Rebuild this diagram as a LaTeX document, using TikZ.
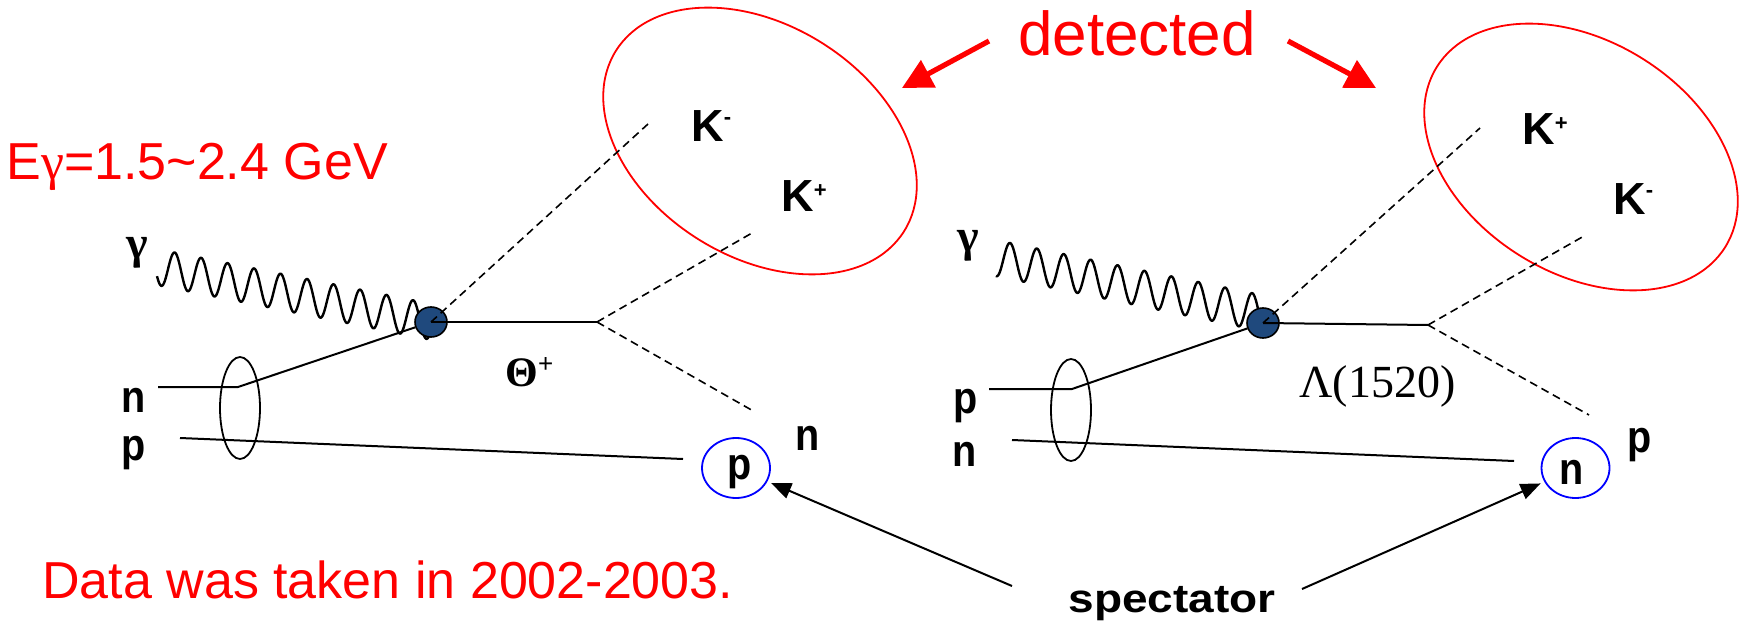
\documentclass[tikz,border=0pt]{standalone}
\usepackage{fontspec}
\setmainfont{Liberation Sans}
\newfontfamily\serif{Liberation Serif}
\usetikzlibrary{arrows.meta,shapes.geometric}
\definecolor{blobblue}{RGB}{31,73,125}
\definecolor{pred}{RGB}{255,0,0}
\definecolor{pblue}{RGB}{0,0,255}
\begin{document}
\begin{tikzpicture}[x=0.5pt,y=-0.5pt,
  fermion/.style={line width=1pt},
  meson/.style={line width=0.8pt, dash pattern=on 4pt off 2.5pt},
  photon/.style={line width=1.2pt, line join=round},
  vtx/.style={ellipse, draw=black, line width=0.8pt, fill=blobblue, minimum width=16pt, minimum height=15pt, inner sep=0pt},
  target/.style={ellipse, draw=black, line width=0.9pt, minimum width=20pt, minimum height=51pt, inner sep=0pt},
  detector/.style={ellipse, draw=pred, line width=0.9pt, minimum width=170pt, minimum height=116pt, inner sep=0pt, rotate=-32},
  spect/.style={ellipse, draw=pblue, line width=0.9pt, minimum width=34pt, minimum height=30pt, inner sep=0pt},
  lbl/.style={font=\fontsize{22.5}{27}\selectfont\bfseries, inner sep=0pt, anchor=base},
  klbl/.style={font=\fontsize{22.5}{27}\selectfont\bfseries, inner sep=0pt, anchor=base west},
  glbl/.style={font=\serif\bfseries\fontsize{23}{27}\selectfont, inner sep=0pt, anchor=base},
  redtxt/.style={text=pred, inner sep=0pt, font=\fontsize{26}{31}\selectfont},
  detarrow/.style={draw=pred, line width=2.6pt, -{Triangle[length=15pt,width=15pt]}},
  specarrow/.style={line width=1pt, -{Triangle[length=10pt,width=8pt]}, shorten >=2pt}
]
\useasboundingbox (0,0) rectangle (1748,625);

% ---------- detector ellipses ----------
\node[detector] (detL) at (760,141) {};
\node[detector] (detR) at (1581,157) {};

% ---------- red texts ----------
\node[redtxt, anchor=base] (det) at (1137,56) {\fontsize{31}{37}\selectfont detected};
\node[redtxt, anchor=base west] (egam) at (6,180) {E{\serif γ}=1.5\textasciitilde 2.4 GeV};
\node[redtxt, anchor=base west] (data) at (42,598) {Data was taken in 2002-2003.};

\coordinate (dA) at (989,41);
\coordinate (dAt) at (902,88);
\coordinate (dB) at (1288,41);
\coordinate (dBt) at (1376,88);
\draw[detarrow] (dA) -- (dAt);
\draw[detarrow] (dB) -- (dBt);

% ================= LEFT DIAGRAM =================
\draw[photon] plot[domain=157:431, samples=500, variable=\t] (\t, {270+0.2*(\t-172)-18*sin(13.585*(\t-168))});
\node[vtx] (bL) at (431,322) {};
\node[target] (ellL) at (240,408) {};
\coordinate (nL0) at (158,387);
\coordinate (nL1) at (238,387);
\coordinate (pL0) at (180,438);
\coordinate (pL1) at (683,459);
\coordinate (vL) at (597,322);
\coordinate (kmL) at (648,124);
\coordinate (kpL) at (752,233);
\coordinate (nfL) at (755,412);
\draw[fermion] (nL0) -- (nL1) -- (bL);
\draw[fermion] (pL0) -- (pL1);
\draw[fermion] (bL.center) -- (vL);
\draw[meson] (bL.center) -- (kmL);
\draw[meson] (vL) -- (kpL);
\draw[meson] (vL) -- (nfL);
\node[spect] (specL) at (736,468) {};

\node[glbl] (gL) at (137,259) {γ};
\node[lbl, xscale=0.88] (nLlab) at (134,412) {n};
\node[lbl, xscale=0.88] (pLlab) at (134,460) {p};
\node[lbl, xscale=0.88] (pLs) at (740,479) {p};
\node[lbl, xscale=0.88] (nLf) at (808,450) {n};
\node[klbl] (kmLlab) at (691,142) {K\raisebox{8.5pt}{\fontsize{11}{11}\selectfont -}};
\node[klbl] (kpLlab) at (781,212) {K\raisebox{7pt}{\fontsize{11}{11}\selectfont +}};
\node[anchor=base west, inner sep=0pt] (thL) at (505,386) {{\serif\bfseries\fontsize{21}{25}\selectfont Θ}\raisebox{6.5pt}{\fontsize{13}{13}\selectfont +}};

% ================= RIGHT DIAGRAM =================
\draw[photon] plot[domain=996:1262, samples=500, variable=\t] (\t, {261+0.207*(\t-1010)-18*sin(13.383*(\t-1003.3))});
\node[vtx] (bR) at (1263,323) {};
\node[target] (ellR) at (1071,410) {};
\coordinate (pR0) at (989,389);
\coordinate (pR1) at (1072,389);
\coordinate (nR0) at (1012,440);
\coordinate (nR1) at (1514,461);
\coordinate (vR) at (1428,325);
\coordinate (kpR) at (1480,128);
\coordinate (kmR) at (1584,236);
\coordinate (pfR) at (1589,415);
\draw[fermion] (pR0) -- (pR1) -- (bR);
\draw[fermion] (nR0) -- (nR1);
\draw[fermion] (bR.center) -- (vR);
\draw[meson] (bR.center) -- (kpR);
\draw[meson] (vR) -- (kmR);
\draw[meson] (vR) -- (pfR);
\node[spect] (specR) at (1575.5,468) {};

\node[glbl] (gR) at (968,252) {γ};
\node[lbl, xscale=0.88] (pRlab) at (966,413) {p};
\node[lbl, xscale=0.88] (nRlab) at (965,466) {n};
\node[lbl, xscale=0.88] (nRs) at (1572,484) {n};
\node[lbl, xscale=0.88] (pRf) at (1640,452) {p};
\node[klbl] (kpRlab) at (1522,145) {K\raisebox{7pt}{\fontsize{11}{11}\selectfont +}};
\node[klbl] (kmRlab) at (1613,215) {K\raisebox{8.5pt}{\fontsize{11}{11}\selectfont -}};
\node[anchor=base west, inner sep=0pt] (lamR) at (1299,397) {\serif\fontsize{23}{27}\selectfont Λ(1520)};

% ---------- spectator ----------
\node[inner sep=0pt, anchor=base, xscale=1.15, font=\fontsize{20}{24}\selectfont\bfseries] (spec) at (1172,612) {spectator};
\coordinate (sA) at (1012,586);
\coordinate (sB) at (1302,589);
\draw[specarrow] (sA) -- (specL);
\draw[specarrow] (sB) -- (specR);
\end{tikzpicture}
\end{document}
